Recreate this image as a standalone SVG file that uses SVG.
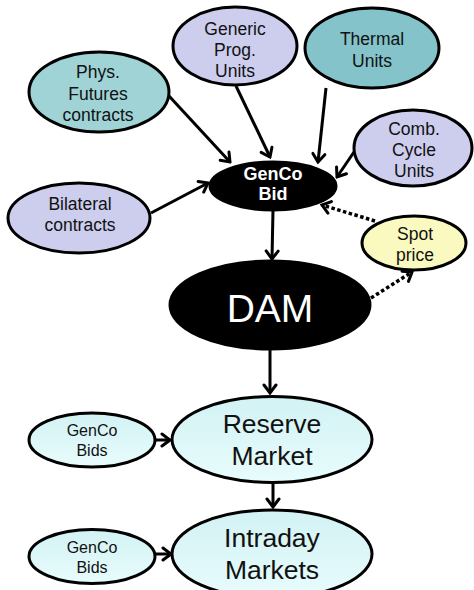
<svg xmlns="http://www.w3.org/2000/svg" width="474" height="590" viewBox="0 0 474 590">
<defs>
<style>
.n{stroke:#000;stroke-width:3}
.t{font-family:"Liberation Sans",Arial,sans-serif;font-size:17.5px;fill:#111;text-anchor:middle}
.s{font-size:16px}
.b{font-weight:bold;font-size:18px;fill:#fff}
.big{font-size:26.5px}
.e{stroke:#000;stroke-width:3;fill:none;marker-end:url(#ah)}
.d{stroke:#000;stroke-width:3.5;fill:none;stroke-dasharray:3.5 2.5;marker-end:url(#ah)}
.teal{fill:#9fd3d5}
.teal2{fill:#83c3c9}
.lav{fill:#cdcdee}
</style>
<linearGradient id="cy" x1="0" y1="0" x2="0" y2="1">
<stop offset="0" stop-color="#d2f2f4"/>
<stop offset="1" stop-color="#e8fcfc"/>
</linearGradient>
<marker id="ah" viewBox="-10 -8 12 16" refX="0" refY="0" markerWidth="12" markerHeight="16" markerUnits="userSpaceOnUse" orient="auto">
<path d="M-8,-6 L0,0 L-8,6" fill="none" stroke="#000" stroke-width="3" stroke-linecap="round" stroke-linejoin="miter"/>
</marker>
</defs>
<rect width="474" height="590" fill="#fff"/>
<g id="connectors">
<line class="e" x1="169" y1="96" x2="230" y2="162"/>
<line class="e" x1="236" y1="86" x2="270" y2="157"/>
<line class="e" x1="326" y1="88" x2="318" y2="162"/>
<line class="e" x1="354" y1="152" x2="337" y2="177"/>
<line class="e" x1="151" y1="213" x2="208" y2="183"/>
<line class="e" x1="273" y1="210" x2="272" y2="259"/>
<line class="e" x1="270" y1="349" x2="270" y2="393"/>
<line class="e" x1="273" y1="483" x2="273" y2="507"/>
<line class="e" x1="155" y1="440" x2="170" y2="440"/>
<line class="e" x1="155" y1="554" x2="171" y2="554"/>
<line class="d" x1="375" y1="221" x2="322" y2="205"/>
<line class="d" x1="371" y1="298" x2="412" y2="272"/>
</g>
<g id="phys">
<ellipse class="n teal" cx="99" cy="92" rx="70" ry="40"/>
<text class="t" x="98" y="78">Phys.</text>
<text class="t" x="98" y="100">Futures</text>
<text class="t" x="98" y="121">contracts</text>
</g>
<g id="generic">
<ellipse class="n lav" cx="235" cy="46" rx="62" ry="39"/>
<text class="t" x="235" y="35">Generic</text>
<text class="t" x="235" y="56">Prog.</text>
<text class="t" x="235" y="77">Units</text>
</g>
<g id="thermal">
<ellipse class="n teal2" cx="372" cy="48" rx="67" ry="40"/>
<text class="t" x="372" y="45">Thermal</text>
<text class="t" x="372" y="67">Units</text>
</g>
<g id="comb">
<ellipse class="n lav" cx="413" cy="148" rx="59" ry="38"/>
<text class="t" x="414" y="135">Comb.</text>
<text class="t" x="414" y="156">Cycle</text>
<text class="t" x="414" y="177">Units</text>
</g>
<g id="bilateral">
<ellipse class="n lav" cx="79" cy="218" rx="71" ry="35"/>
<text class="t" x="80" y="210">Bilateral</text>
<text class="t" x="80" y="231">contracts</text>
</g>
<g id="gencobid">
<ellipse class="n" fill="#000" cx="273" cy="186" rx="63" ry="24"/>
<text class="t b" x="273" y="180">GenCo</text>
<text class="t b" x="273" y="200">Bid</text>
</g>
<g id="spot">
<ellipse class="n" fill="#fafac0" cx="414" cy="243" rx="52" ry="27"/>
<text class="t" x="415" y="240">Spot</text>
<text class="t" x="415" y="261">price</text>
</g>
<g id="dam">
<ellipse class="n" fill="#000" cx="270" cy="305" rx="100" ry="44"/>
<text class="t" style="font-size:39px;fill:#fff" x="270" y="322">DAM</text>
</g>
<g id="reserve">
<ellipse class="n" fill="url(#cy)" cx="272" cy="439.5" rx="100" ry="43"/>
<text class="t big" x="272" y="433">Reserve</text>
<text class="t big" x="272" y="465">Market</text>
</g>
<g id="bids1">
<ellipse class="n" fill="url(#cy)" cx="92" cy="440" rx="63" ry="27"/>
<text class="t s" x="92" y="436">GenCo</text>
<text class="t s" x="92" y="456">Bids</text>
</g>
<g id="intraday">
<ellipse class="n" fill="url(#cy)" cx="272" cy="554" rx="100" ry="44"/>
<text class="t big" x="272" y="547">Intraday</text>
<text class="t big" x="272" y="579">Markets</text>
</g>
<g id="bids2">
<ellipse class="n" fill="url(#cy)" cx="92" cy="556.5" rx="63" ry="27"/>
<text class="t s" x="92" y="553">GenCo</text>
<text class="t s" x="92" y="573">Bids</text>
</g>
</svg>
